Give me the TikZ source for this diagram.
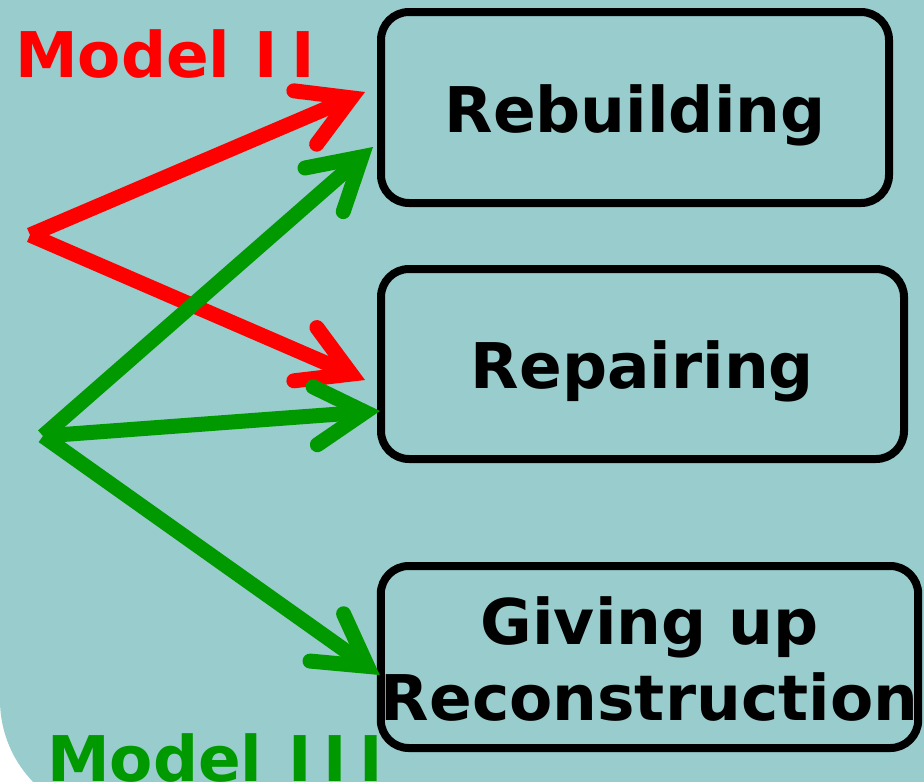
\documentclass[tikz,border=0pt]{standalone}
\usepackage{fontspec}
\setmainfont{DejaVu Sans}
\usetikzlibrary{arrows.meta}
\definecolor{bgc}{RGB}{153,204,204}
\definecolor{redc}{RGB}{255,0,0}
\definecolor{greenc}{RGB}{0,153,0}
\begin{document}
\begin{tikzpicture}[x=1pt,y=-1pt,
  box/.style={draw=black, line width=8pt, rounded corners=28pt, inner sep=0pt, outer sep=0pt,
    font=\fontsize{63}{76}\selectfont\bfseries},
  arr/.style={line width=15pt, line cap=butt,
    -{Straight Barb[length=50pt,width=58pt,line cap=round,line join=miter]}},
  redarr/.style={arr, draw=redc},
  greenarr/.style={arr, draw=greenc},
  lbl/.style={inner sep=0pt, anchor=base west, font=\fontsize{63}{76}\selectfont\bfseries}]
\useasboundingbox (0,0) rectangle (924,782);
\fill[bgc] (0,-10) -- (934,-10) -- (934,818) -- (118,818)
  arc[start angle=90,end angle=180,radius=118] -- cycle;

\node[box, minimum width=508pt, minimum height=191pt] (b1) at (635,107.5)
  {\raisebox{-25pt}[0pt][0pt]{Rebuilding}};
\node[box, minimum width=523pt, minimum height=190pt] (b2) at (642.5,364)
  {\raisebox{-24pt}[0pt][0pt]{Repairing}};
\node[box, minimum width=537pt, minimum height=182pt] (b3) at (649.5,657)
  {\raisebox{-63pt}[0pt][0pt]{\begin{tabular}[b]{@{}c@{}}Giving up\\Reconstruction\end{tabular}}};

\node[lbl, text=redc] (m2) at (15,77) {Model\kern2pt\ I\kern14pt I};
\node[lbl, text=greenc] (m3) at (47,781) {Model\kern4pt\ I\kern12pt I\kern12pt I};

\coordinate (r0) at (30,235);
\coordinate (g0) at (43,436);
\coordinate (t1) at ([shift={(-16,-15.5)}]b1.west);
\coordinate (t2) at ([shift={(-8,39.5)}]b1.west);
\coordinate (t3) at ([shift={(-16,16)}]b2.west);
\coordinate (t4) at ([shift={(-1,47)}]b2.west);
\coordinate (t5) at ([shift={(-1,18)}]b3.west);

\draw[redarr] (r0) -- (t1);
\draw[redarr] (r0) -- (t3);
\draw[greenarr] (g0) -- (t2);
\draw[greenarr] (g0) -- (t4);
\draw[greenarr] (g0) -- (t5);
\end{tikzpicture}
\end{document}
